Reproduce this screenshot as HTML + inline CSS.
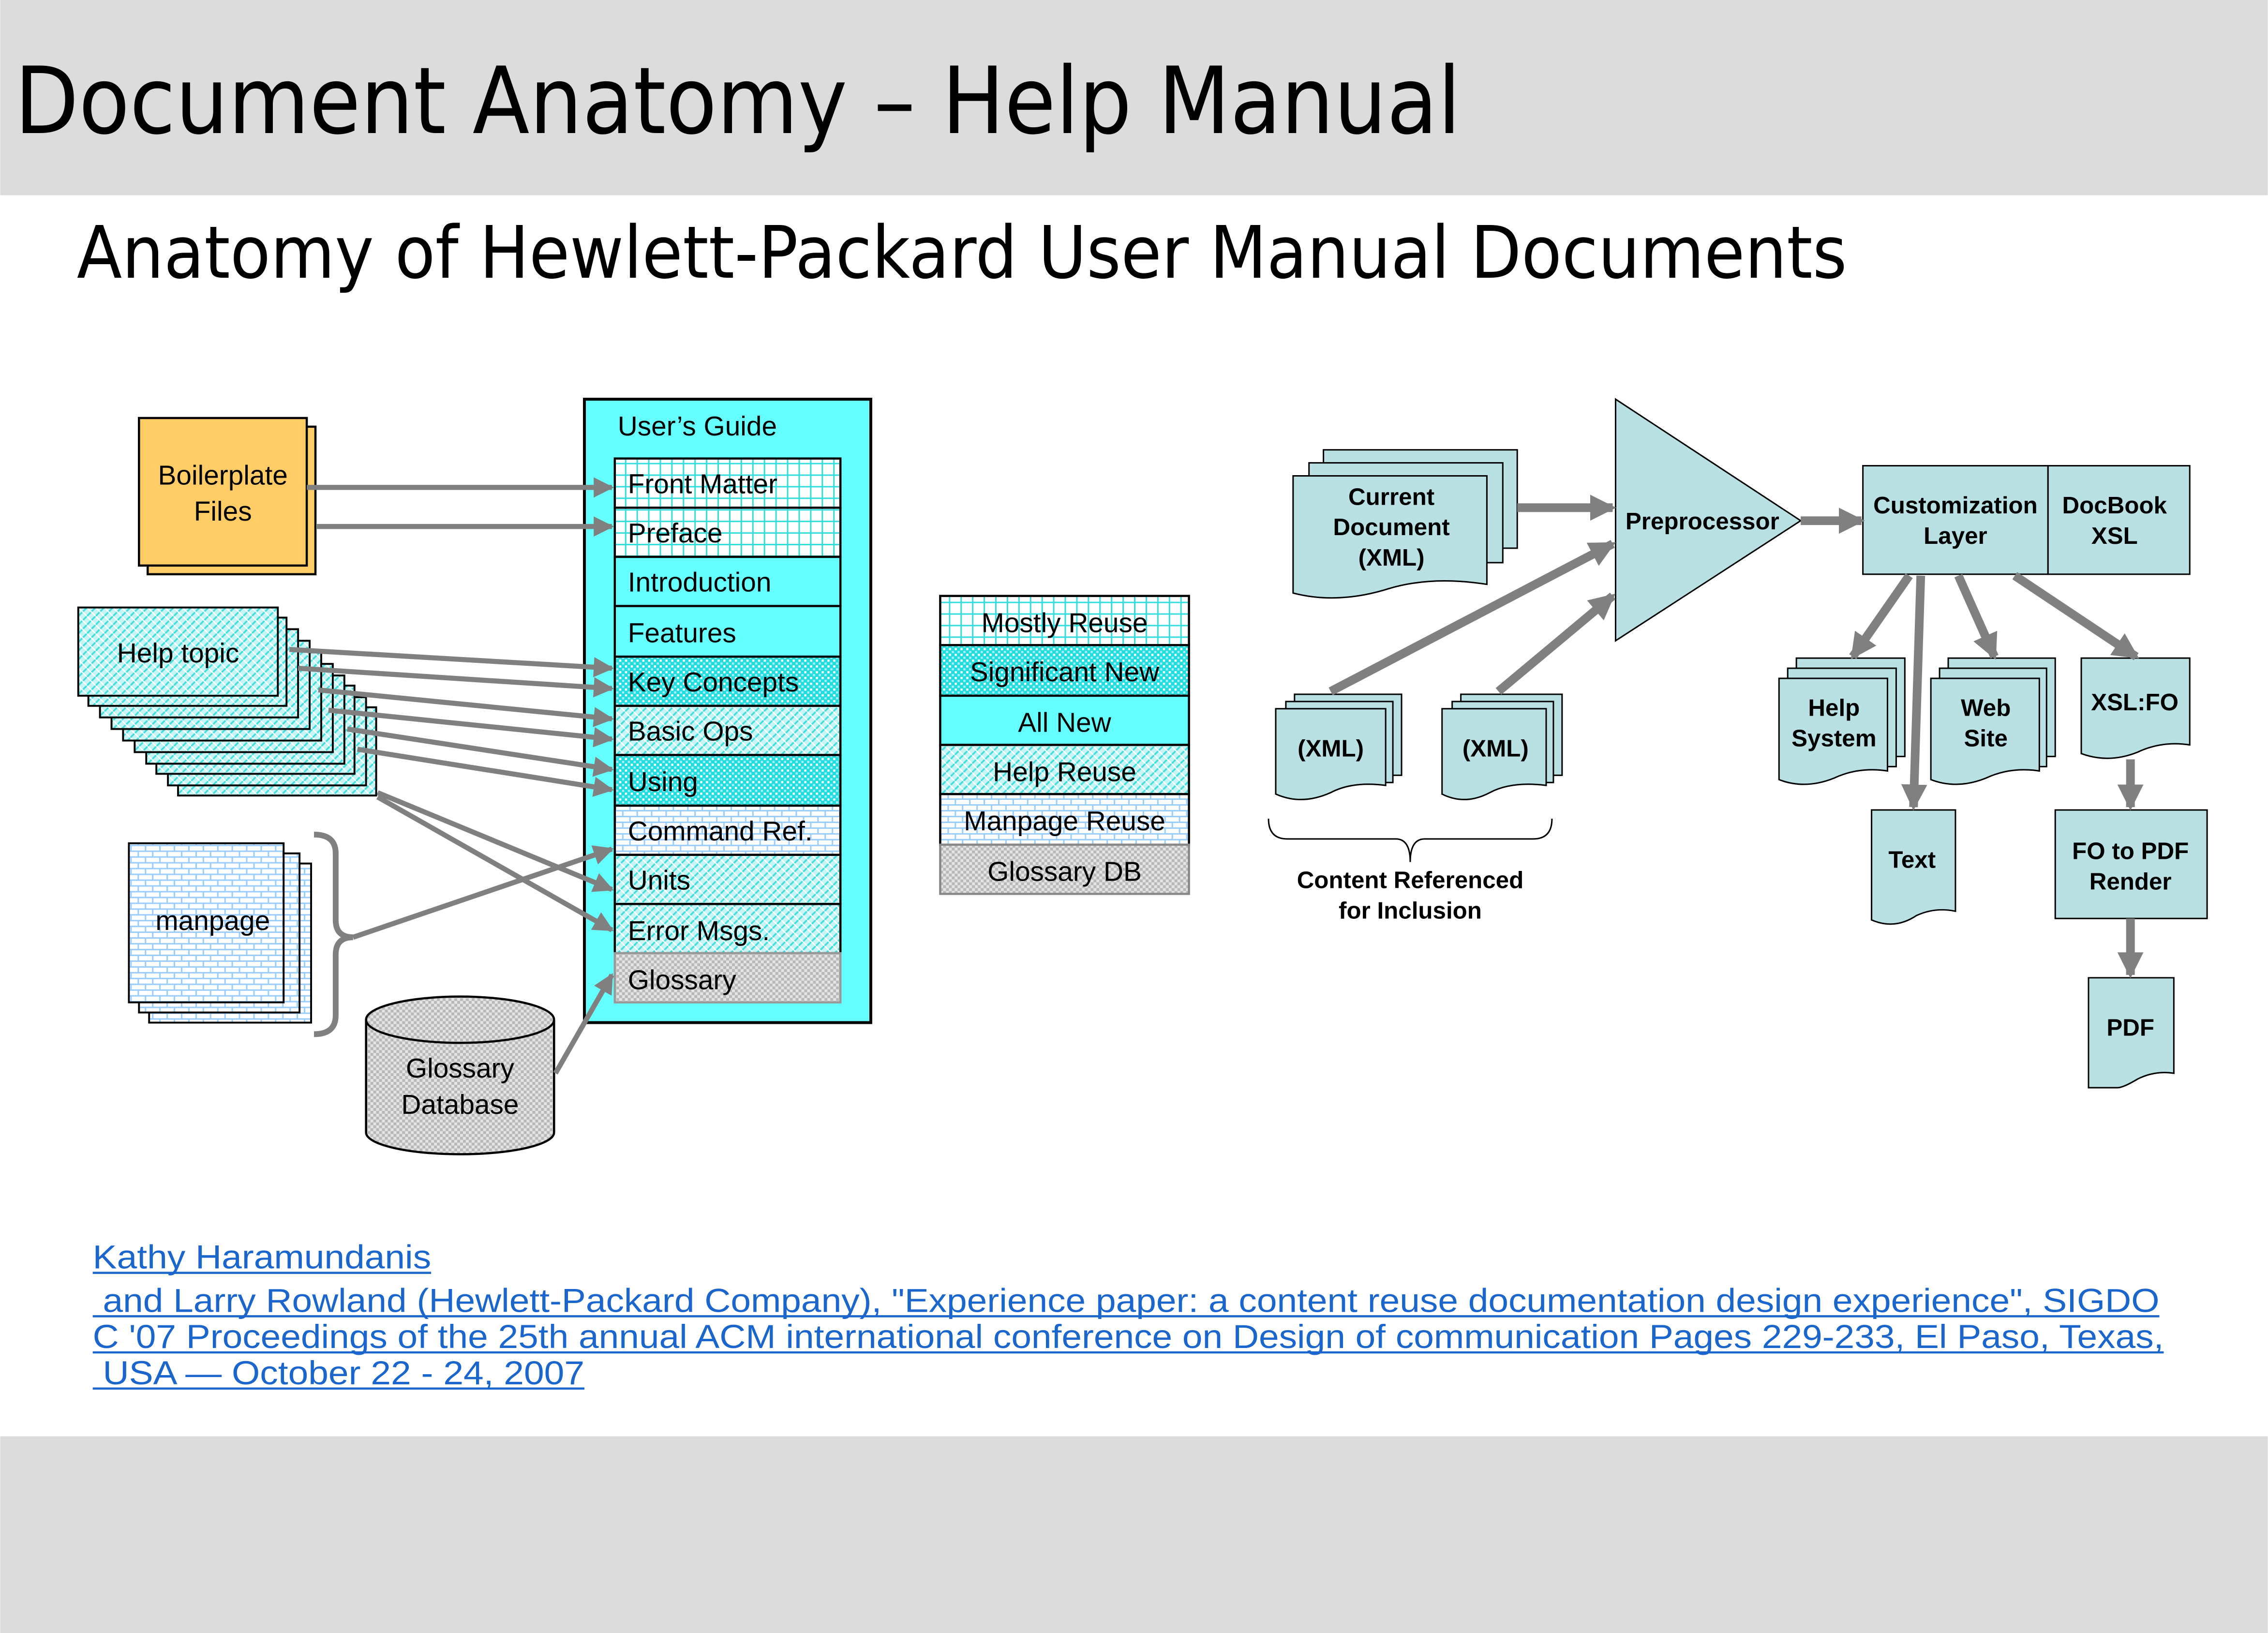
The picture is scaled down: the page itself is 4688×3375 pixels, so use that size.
<!DOCTYPE html>
<html><head><meta charset="utf-8"><style>
html,body{margin:0;padding:0;background:#fff}
svg{display:block}
</style></head><body>
<svg width="4688" height="3375" viewBox="0 0 1568 1129" xmlns="http://www.w3.org/2000/svg" font-family="Liberation Sans, sans-serif">
<defs>
<pattern id="grid" width="8" height="8" patternUnits="userSpaceOnUse"><rect width="8" height="8" fill="#fff"/><path d="M0 0.5H8M0.5 0V8" stroke="#33dddd" stroke-width="1"/></pattern>
<pattern id="dense" width="4" height="4" patternUnits="userSpaceOnUse"><rect width="4" height="4" fill="#22dddd"/><rect x="0" y="0" width="1.5" height="1.5" fill="#fff"/><rect x="2" y="2" width="1.5" height="1.5" fill="#aef"/></pattern>
<pattern id="weave" width="6" height="6" patternUnits="userSpaceOnUse"><rect width="6" height="6" fill="#c8f4f4"/><path d="M0 6L6 0M-1 1L1 -1M5 7L7 5" stroke="#44dddd" stroke-width="1.2"/><path d="M0 0L6 6" stroke="#fff" stroke-width="0.8"/></pattern>
<pattern id="brick" width="10" height="8" patternUnits="userSpaceOnUse"><rect width="10" height="8" fill="#fff"/><path d="M0 0.5H10M0 4.5H10M0.5 0V4M5.5 4V8" stroke="#99ccff" stroke-width="1"/></pattern>
<pattern id="gchk" width="4" height="4" patternUnits="userSpaceOnUse"><rect width="4" height="4" fill="#e4e4e4"/><rect width="2" height="2" fill="#b8b8b8"/><rect x="2" y="2" width="2" height="2" fill="#b8b8b8"/></pattern>
<marker id="ah" markerWidth="4" markerHeight="4" refX="3.6" refY="2" orient="auto" markerUnits="strokeWidth"><path d="M0 0L4 2L0 4Z" fill="#808080"/></marker>
<marker id="ah2" markerWidth="3" markerHeight="3" refX="2.6" refY="1.5" orient="auto" markerUnits="strokeWidth"><path d="M0 0L3 1.5L0 3Z" fill="#808080"/></marker>
</defs>
<rect width="1568" height="135" fill="#dcdcdc"/>
<rect y="993" width="1568" height="136" fill="#dcdcdc"/>
<text x="10" y="92" font-size="64" font-family="DejaVu Sans, sans-serif" textLength="1000" lengthAdjust="spacingAndGlyphs">Document Anatomy – Help Manual</text>
<text x="53" y="192" font-size="50" font-family="DejaVu Sans, sans-serif" textLength="1224" lengthAdjust="spacingAndGlyphs">Anatomy of Hewlett-Packard User Manual Documents</text>

<!-- Boilerplate -->
<rect x="102" y="295" width="116" height="102" fill="#ffcc66" stroke="#000" stroke-width="1.5"/>
<rect x="96" y="289" width="116" height="102" fill="#ffcc66" stroke="#000" stroke-width="1.5"/>
<text x="154" y="335" font-size="19" text-anchor="middle">Boilerplate</text>
<text x="154" y="360" font-size="19" text-anchor="middle">Files</text>

<!-- Help topic stack -->
<g stroke="#000" stroke-width="1.3" fill="url(#weave)">
<rect x="123" y="489" width="137" height="61"/>
<rect x="116" y="482" width="137" height="61"/>
<rect x="108" y="474" width="137" height="61"/>
<rect x="101" y="467" width="137" height="61"/>
<rect x="93" y="459" width="137" height="61"/>
<rect x="85" y="451" width="137" height="61"/>
<rect x="77" y="443" width="137" height="61"/>
<rect x="69" y="435" width="137" height="61"/>
<rect x="61" y="427" width="137" height="61"/>
<rect x="54" y="420" width="138" height="61"/>
</g>
<text x="123" y="458" font-size="19" text-anchor="middle">Help topic</text>

<!-- manpage -->
<g stroke="#000" stroke-width="1.3" fill="url(#brick)">
<rect x="103" y="597" width="112" height="110"/>
<rect x="96" y="590" width="111" height="110"/>
<rect x="89" y="583" width="107" height="110"/>
</g>
<text x="147" y="643" font-size="19" text-anchor="middle">manpage</text>
<path d="M217 577 Q232 577 232 590 L232 636 Q232 648 244 648 Q232 648 232 660 L232 702 Q232 715 217 715" fill="none" stroke="#808080" stroke-width="4"/>

<!-- Glossary DB cylinder -->
<path d="M253 705 L253 783 A65 15 0 0 0 383 783 L383 705" fill="url(#gchk)" stroke="#000" stroke-width="1.5"/>
<ellipse cx="318" cy="705" rx="65" ry="16" fill="url(#gchk)" stroke="#000" stroke-width="1.5"/>
<text x="318" y="745" font-size="19" text-anchor="middle">Glossary</text>
<text x="318" y="770" font-size="19" text-anchor="middle">Database</text>

<!-- User's Guide -->
<rect x="404" y="276" width="198" height="431" fill="#66ffff" stroke="#000" stroke-width="2"/>
<text x="427" y="301" font-size="19">User’s Guide</text>
<g stroke="#000" stroke-width="1.5">
<rect x="425" y="317" width="156" height="34" fill="url(#grid)"/>
<rect x="425" y="351" width="156" height="34" fill="url(#grid)"/>
<rect x="425" y="385" width="156" height="34" fill="#66ffff"/>
<rect x="425" y="419" width="156" height="35" fill="#66ffff"/>
<rect x="425" y="454" width="156" height="34" fill="url(#dense)"/>
<rect x="425" y="488" width="156" height="34" fill="url(#weave)"/>
<rect x="425" y="522" width="156" height="35" fill="url(#dense)"/>
<rect x="425" y="557" width="156" height="34" fill="url(#brick)"/>
<rect x="425" y="591" width="156" height="34" fill="url(#weave)"/>
<rect x="425" y="625" width="156" height="34" fill="url(#weave)"/>
<rect x="425" y="659" width="156" height="34" fill="url(#gchk)" stroke="#999"/>
</g>
<g font-size="19">
<text x="434" y="341">Front Matter</text>
<text x="434" y="375">Preface</text>
<text x="434" y="409">Introduction</text>
<text x="434" y="444">Features</text>
<text x="434" y="478">Key Concepts</text>
<text x="434" y="512">Basic Ops</text>
<text x="434" y="547">Using</text>
<text x="434" y="581">Command Ref.</text>
<text x="434" y="615">Units</text>
<text x="434" y="650">Error Msgs.</text>
<text x="434" y="684">Glossary</text>
</g>

<!-- left arrows -->
<g stroke="#808080" stroke-width="3.5" fill="none" marker-end="url(#ah)">
<line x1="212" y1="337" x2="423" y2="337"/>
<line x1="219" y1="364" x2="423" y2="364"/>
<line x1="200" y1="449" x2="423" y2="462"/>
<line x1="206" y1="462" x2="423" y2="476"/>
<line x1="220" y1="477" x2="423" y2="497"/>
<line x1="227" y1="491" x2="423" y2="511"/>
<line x1="240" y1="504" x2="423" y2="532"/>
<line x1="247" y1="518" x2="423" y2="546"/>
<line x1="261" y1="548" x2="423" y2="615"/>
<line x1="261" y1="551" x2="423" y2="643"/>
<line x1="244" y1="648" x2="423" y2="587"/>
<line x1="384" y1="742" x2="423" y2="674"/>
</g>

<!-- Legend -->
<g stroke="#000" stroke-width="1.5">
<rect x="650" y="412" width="172" height="34" fill="url(#grid)"/>
<rect x="650" y="446" width="172" height="35" fill="url(#dense)"/>
<rect x="650" y="481" width="172" height="34" fill="#66ffff"/>
<rect x="650" y="515" width="172" height="34" fill="url(#weave)"/>
<rect x="650" y="549" width="172" height="35" fill="url(#brick)"/>
<rect x="650" y="584" width="172" height="34" fill="url(#gchk)" stroke="#888"/>
</g>
<g font-size="19" text-anchor="middle">
<text x="736" y="437">Mostly Reuse</text>
<text x="736" y="471">Significant New</text>
<text x="736" y="506">All New</text>
<text x="736" y="540">Help Reuse</text>
<text x="736" y="574">Manpage Reuse</text>
<text x="736" y="609">Glossary DB</text>
</g>

<!-- Right diagram -->
<g fill="#b9e0e2" stroke="#000" stroke-width="1">
<rect x="915" y="311" width="134" height="68"/>
<rect x="905" y="320" width="134" height="69"/>
<path d="M894 329H1028V404Q990 398 960 407Q925 418 894 410Z"/>
<polygon points="1117,276 1117,443 1245,360"/>
<rect x="1288" y="322" width="128" height="75"/>
<rect x="1416" y="322" width="98" height="75"/>
<rect x="895" y="480" width="74" height="56"/>
<rect x="889" y="485" width="74" height="56"/>
<path d="M882 490H958V543Q935 540 920 548Q900 557 882 549Z"/>
<rect x="1010" y="480" width="70" height="56"/>
<rect x="1004" y="485" width="70" height="56"/>
<path d="M997 490H1069V543Q1045 540 1030 548Q1013 557 997 549Z"/>
<rect x="1242" y="455" width="75" height="68"/>
<rect x="1236" y="462" width="75" height="68"/>
<path d="M1230 469H1305V533Q1285 530 1268 538Q1248 546 1230 539Z"/>
<rect x="1347" y="455" width="74" height="68"/>
<rect x="1341" y="462" width="74" height="68"/>
<path d="M1335 469H1410V533Q1390 530 1373 538Q1353 546 1335 539Z"/>
<path d="M1439 455H1514V515Q1495 512 1478 520Q1458 528 1439 521Z"/>
<path d="M1294 560H1352V630Q1338 627 1325 633Q1310 643 1294 636Z"/>
<rect x="1421" y="560" width="105" height="75"/>
<path d="M1444 676H1503V742Q1490 740 1478 746Q1468 752 1464 752H1444Z"/>
</g>
<g font-size="16.5" font-weight="bold" text-anchor="middle" font-family="Liberation Sans, sans-serif">
<text x="962" y="349">Current</text>
<text x="962" y="370">Document</text>
<text x="962" y="391">(XML)</text>
<text x="1177" y="366">Preprocessor</text>
<text x="1352" y="355">Customization</text>
<text x="1352" y="376">Layer</text>
<text x="1462" y="355">DocBook</text>
<text x="1462" y="376">XSL</text>
<text x="920" y="523">(XML)</text>
<text x="1034" y="523">(XML)</text>
<text x="1268" y="495">Help</text>
<text x="1268" y="516">System</text>
<text x="1373" y="495">Web</text>
<text x="1373" y="516">Site</text>
<text x="1476" y="491">XSL:FO</text>
<text x="1322" y="600">Text</text>
<text x="1473" y="594">FO to PDF</text>
<text x="1473" y="615">Render</text>
<text x="1473" y="716">PDF</text>
<text x="975" y="614">Content Referenced</text>
<text x="975" y="635">for Inclusion</text>
</g>
<path d="M877 566 Q877 580 890 580 L965 580 Q975 580 975 596 Q975 580 985 580 L1060 580 Q1073 580 1073 566" fill="none" stroke="#000" stroke-width="1"/>
<g stroke="#808080" stroke-width="6" fill="none" marker-end="url(#ah2)">
<line x1="1049" y1="351" x2="1115" y2="351"/>
<line x1="1245" y1="360" x2="1287" y2="360"/>
<line x1="920" y1="478" x2="1115" y2="376"/>
<line x1="1036" y1="478" x2="1115" y2="412"/>
<line x1="1320" y1="398" x2="1281" y2="454"/>
<line x1="1328" y1="398" x2="1323" y2="558"/>
<line x1="1354" y1="398" x2="1379" y2="454"/>
<line x1="1393" y1="398" x2="1477" y2="454"/>
<line x1="1473" y1="525" x2="1473" y2="558"/>
<line x1="1473" y1="635" x2="1473" y2="674"/>
</g>

<!-- Footer citation -->
<g font-size="23" fill="#1a66cc">
<text x="64" y="877" textLength="234" lengthAdjust="spacingAndGlyphs">Kathy Haramundanis</text>
<text x="64" y="907" textLength="1429" lengthAdjust="spacingAndGlyphs" xml:space="preserve"> and Larry Rowland (Hewlett-Packard Company), "Experience paper: a content reuse documentation design experience", SIGDO</text>
<text x="64" y="932" textLength="1432" lengthAdjust="spacingAndGlyphs">C '07 Proceedings of the 25th annual ACM international conference on Design of communication Pages 229-233, El Paso, Texas,</text>
<text x="64" y="957" textLength="340" lengthAdjust="spacingAndGlyphs" xml:space="preserve"> USA — October 22 - 24, 2007</text>
</g>
<g stroke="#1a66cc" stroke-width="1.5">
<line x1="64" y1="880" x2="298" y2="880"/>
<line x1="64" y1="910" x2="1493" y2="910"/>
<line x1="64" y1="935" x2="1496" y2="935"/>
<line x1="64" y1="960" x2="404" y2="960"/>
</g>
</svg>
</body></html>
